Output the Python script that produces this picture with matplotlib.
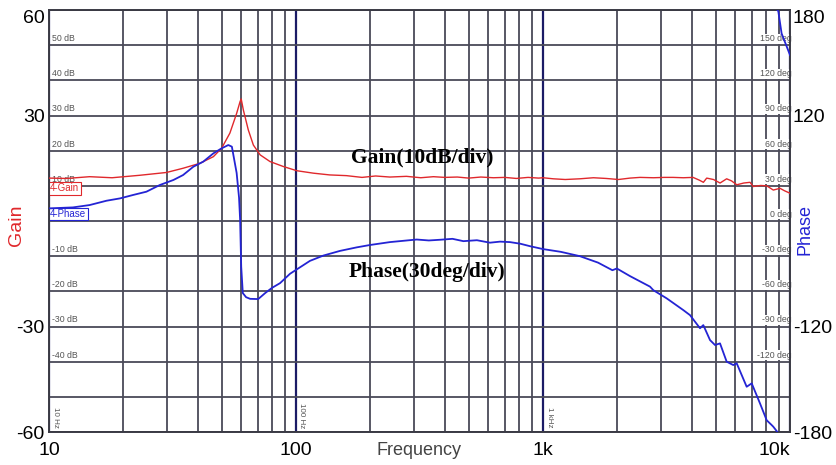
import numpy as np
import matplotlib
matplotlib.use("Agg")
import matplotlib.pyplot as plt
from matplotlib.ticker import FixedLocator, NullFormatter

plt.rcParams["font.family"] = ["Liberation Sans", "DejaVu Sans"]

# ---- measured loop response ----
gain_freq = [10, 11.8, 14.6, 18, 23.3, 29.9, 34.9, 40.8, 46.3, 50.0, 54.0, 57.5,
             59.4, 60.0, 61.2, 64.1, 67.2, 71.6, 78.5, 88.8, 100.7, 117.6, 137,
             160, 185, 210, 240, 280, 320, 360, 400, 450, 500, 560, 630, 700,
             780, 870, 960, 1000, 1100, 1230, 1410, 1600, 1800, 2020, 2250, 2470,
             2800, 3100, 3360, 3700, 4050, 4300, 4460, 4600, 4900, 5210, 5540,
             5800, 6090, 6500, 6890, 7100, 7600, 8050, 8560, 9110, 9500, 10000]
gain_db = [12.2, 12.1, 12.6, 12.3, 13.0, 13.8, 15.0, 16.4, 18.3, 20.7, 25.0, 30.6,
           34.0, 34.7, 31.6, 25.9, 21.6, 18.8, 16.9, 15.5, 14.3, 13.6, 13.1,
           12.9, 12.4, 12.8, 12.5, 12.7, 12.3, 12.6, 12.4, 12.5, 12.2, 12.5, 12.3, 12.4,
           12.1, 12.4, 12.2, 12.3, 12.0, 11.8, 12.0, 12.3, 12.1, 11.8, 12.2, 12.4,
           12.3, 12.4, 12.4, 12.3, 12.4, 11.6, 11.0, 12.2, 11.8, 10.8, 12.0,
           11.4, 10.3, 10.8, 11.0, 9.8, 10.1, 10.0, 8.8, 9.3, 8.6, 7.9]

phase_freq = [10.1, 12.5, 14.6, 17.1, 19.4, 21.9, 24.8, 28.1, 31.9, 34.9, 38.4,
              42.1, 46.3, 50.0, 53.2, 55.0, 57.5, 58.8, 59.4, 60.0, 60.9, 62.8,
              65.2, 70.3, 75.0, 80, 86.2, 94.6, 103.8, 113.9, 129, 150.7, 176,
              199, 240, 275, 308, 345, 383, 430, 476, 540, 610, 670, 735, 810, 886,
              1003, 1180, 1410, 1670, 1910, 1990, 2250, 2470, 2712, 2796, 3168,
              3698, 3937, 4322, 4457, 4745, 4971, 5208, 5541, 5894, 6085, 6677,
              6998, 7560, 8048, 8432, 8559, 8966, 9247, 10000]
phase_deg = [10.8, 11.6, 13.6, 17.3, 19.3, 22.2, 25.0, 30.7, 35.0, 39.2, 46.3,
             50.6, 57.7, 62.0, 64.8, 63.4, 41.0, 20.0, 1.0, -39.0, -61.5, -65.0,
             -66.4, -66.6, -61.5, -57.0, -53.0, -45.0, -39.5, -34.0, -29.5, -25.5, -22.5,
             -20.5, -18.0, -16.8, -15.8, -16.6, -16.0, -15.2, -17.2, -16.4, -18.5, -17.6, -18.0, -19.4, -21.5,
             -24.0, -26.3, -30.0, -35.5, -42.0, -40.5, -47.0, -51.5, -56.0, -59.0, -66.0,
             -76.0, -80.3, -91.5, -88.8, -101.6, -105.8, -104.4, -120.0, -122.9, -121.4, -141.4,
             -138.5, -155.6, -170.0, -174.1, -175.5, -181.0, -200.0, -218.4]

decades = [10, 100, 1000, 10000]
decade_labels = ["10", "100", "1k", "10k"]
gain_ticks = [-60, -30, 30, 60]
phase_tick_pos = [-180, -90, 90, 180]
phase_tick_labels = ["-180", "-120", "120", "180"]
gain_grid = [-50, -40, -20, -10, 0, 10, 20, 40, 50]
db_labels = [50, 40, 30, 20, 10, -10, -20, -30, -40]
deg_labels = [150, 120, 90, 60, 30, 0, -30, -60, -90, -120]

GRID = "#4a4a58"
NAVY = "#1b1b66"
RED = "#e0282c"
BLUE = "#2424d4"

fig = plt.figure(figsize=(8.37, 4.65), dpi=100)
ax = fig.add_axes([49 / 837, 1 - 432 / 465, 741 / 837, 422 / 465])
ax.set_xscale("log")
ax.set_xlim(10, 10000)
ax.set_ylim(-60, 60)

minor_x = [m * d for d in (10, 100, 1000) for m in range(2, 10)]
ax.xaxis.set_major_locator(FixedLocator(decades))
ax.xaxis.set_minor_locator(FixedLocator(minor_x))
ax.xaxis.set_minor_formatter(NullFormatter())
ax.set_xticklabels(decade_labels)
ax.set_yticks(gain_ticks)
ax.set_yticks(gain_grid, minor=True)
ax.set_yticklabels([str(v) for v in gain_ticks])

ax.grid(True, which="minor", axis="both", color=GRID, lw=1.3)
ax.grid(True, which="major", axis="y", color=GRID, lw=1.3)
ax.grid(True, which="major", axis="x", color=NAVY, lw=1.6)

ax.tick_params(axis="both", which="both", length=0)
ax.tick_params(axis="y", labelsize=14, pad=3)
ax.tick_params(axis="x", labelsize=14, pad=7)
for s in ax.spines.values():
    s.set_color("#3a3a44")
    s.set_linewidth(1.4)

yl = ax.get_yticklabels()
yl[-1].set_va("top")
xl = ax.get_xticklabels()
xl[-1].set_ha("right")

ax.plot(gain_freq, gain_db, color=RED, lw=1.0, zorder=3)

# inner scale annotations
for v in db_labels:
    ax.annotate(f"{v} dB", xy=(10, v), xytext=(2.5, 1.5), textcoords="offset points",
                ha="left", va="bottom", fontsize=6.3, color="#555555", zorder=2)
for v in deg_labels:
    ax.annotate(f"{v} deg", xy=(10000, v / 3), xytext=(1, 1.5), textcoords="offset points",
                ha="right", va="bottom", fontsize=6.3, color="#555555", zorder=2,
                bbox=dict(boxstyle="square,pad=0.05", fc="white", ec="none"))
for f, t in zip([10, 100, 1000], ["10 Hz", "100 Hz", "1 kHz"]):
    ax.annotate(t, xy=(f, -60), xytext=(1.8, 3), textcoords="offset points",
                rotation=270, ha="left", va="bottom", fontsize=5.8, color="#555555",
                zorder=2)

ax.text(10.1, 60 - (188.5 - 10) / 3.5167, "4-Gain", fontsize=7, color=RED,
        ha="left", va="center", zorder=2,
        bbox=dict(boxstyle="square,pad=0.15", fc="white", ec=RED, lw=0.8))
ax.text(10.1, 60 - (214 - 10) / 3.5167, "4-Phase", fontsize=7, color=BLUE,
        ha="left", va="center", zorder=2,
        bbox=dict(boxstyle="square,pad=0.15", fc="white", ec=BLUE, lw=0.8))

ax.text(167, 18.2, "Gain(10dB/div)", fontsize=15.5, fontweight="bold",
        family=["Liberation Serif"], ha="left", va="center", zorder=4)
ax.text(164, -14.4, "Phase(30deg/div)", fontsize=15.5, fontweight="bold",
        family=["Liberation Serif"], ha="left", va="center", zorder=4)

ax.set_ylabel("Gain", color=RED, fontsize=14)
ax.yaxis.set_label_coords(-0.033, 0.49)
ax.set_xlabel("Frequency", color="#444444", fontsize=13)
ax.xaxis.set_label_coords(0.5, -0.024)

ax2 = ax.twinx()
ax2.set_ylim(-180, 180)
ax2.set_yticks(phase_tick_pos)
ax2.set_yticklabels(phase_tick_labels)
ax2.tick_params(axis="y", length=0, labelsize=14, pad=2)
for s in ax2.spines.values():
    s.set_visible(False)
yr = ax2.get_yticklabels()
yr[-1].set_va("top")

# phase trace, wrapped into the +/-180 deg window
ax2.plot(phase_freq, phase_deg, color=BLUE, lw=1.3, zorder=3)
ax2.plot(phase_freq, np.array(phase_deg) + 360, color=BLUE, lw=1.3, zorder=3)
ax2.set_ylabel("Phase", color=BLUE, fontsize=13, rotation=90)
ax2.yaxis.set_label_coords(1.009, 0.48)

fig.savefig("out.png", dpi=100)
